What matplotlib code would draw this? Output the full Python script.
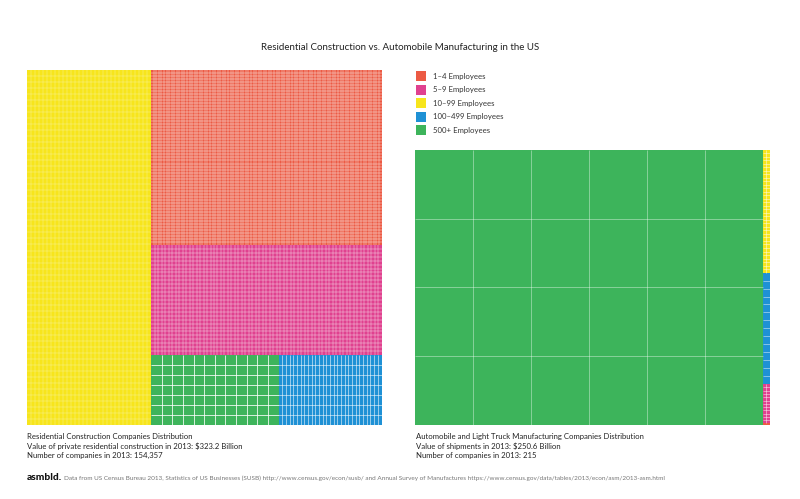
import numpy as np
import matplotlib.pyplot as plt
from matplotlib.patches import Rectangle

plt.rcParams['font.family'] = ['Lato', 'DejaVu Sans']

# Employee size classes
classes = ['1-4 Employees', '5-9 Employees', '10-99 Employees',
           '100-499 Employees', '500+ Employees']
colors = ['#ec5a44', '#e0418f', '#f7e51c', '#1f91d5', '#3db45b']

# Residential construction: value (billion $) by size class, read from areas
res_total = 323.2
res_values = [103.5, 65.1, 113.2, 18.5, 22.9]
# grid of cells drawn inside each block (cols, rows)
res_grid = [(90, 58), (66, 28), (31, 59), (28, 7), (12, 7)]

# Auto & light truck manufacturing
auto_total = 250.6
auto_values = [0.03, 0.7, 2.2, 2.0, 245.6]
auto_grid = [(1, 1), (2, 12), (2, 35), (1, 14), (6, 4)]

fig = plt.figure(figsize=(8, 4.99), dpi=100)

S = np.sqrt(res_total)         # side of the residential square
W = S                          # both blocks share the same width
gap = 34 / 355 * S
ax = fig.add_axes([27 / 800, 74 / 499, 743 / 800, 355 / 499])
ax.set_xlim(0, 2 * W + gap)
ax.set_ylim(0, S)
ax.axis('off')


def block(x, y, w, h, color, grid, alpha=0.75, lw=0.35):
    ax.add_patch(Rectangle((x, y), w, h, facecolor=color, edgecolor='none'))
    nc, nr = grid
    xs = x + w * np.arange(1, nc) / nc
    ys = y + h * np.arange(1, nr) / nr
    if len(xs):
        ax.vlines(xs, y, y + h, colors='white', lw=lw, alpha=alpha)
    if len(ys):
        ax.hlines(ys, x, x + w, colors='white', lw=lw, alpha=alpha)


# left treemap: 10-99 column, then 1-4 and 5-9 rows, then 500+ / 100-499 side by side
H = S
area = lambda v: v / res_total * W * H
i1, i5, i10, i100, i500 = range(5)
w10 = area(res_values[i10]) / H
block(0, 0, w10, H, colors[i10], res_grid[i10], 0.5)
rw = W - w10
h1 = area(res_values[i1]) / rw
block(w10, H - h1, rw, h1, colors[i1], res_grid[i1], 0.8)
h5 = area(res_values[i5]) / rw
block(w10, H - h1 - h5, rw, h5, colors[i5], res_grid[i5], 0.75)
hb = H - h1 - h5
w500 = area(res_values[i500]) / hb
block(w10, 0, w500, hb, colors[i500], res_grid[i500], 1.0, 0.55)
block(w10 + w500, 0, rw - w500, hb, colors[i100], res_grid[i100], 0.85, 0.45)

# right treemap: same width, height scaled by value
x0 = W + gap
H2 = auto_total / res_total * S
w5 = auto_values[i500] / auto_total * W
block(x0, 0, w5, H2, colors[i500], auto_grid[i500], 0.6, 0.45)
sw = W - w5
top = H2
for i in [i10, i100, i5, i1]:
    h = auto_values[i] / sum(auto_values[:4]) * H2
    block(x0 + w5, top - h, sw, h, colors[i], auto_grid[i], 0.8, 0.4)
    top -= h

# title
fig.text(0.5, 1 - 47 / 499, 'Residential Construction vs. Automobile Manufacturing in the US',
         ha='center', va='center', fontsize=7, color='#222222')

# legend
for k, (lab, c) in enumerate(zip(classes, colors)):
    yc = 1 - (76 + k * 13.6) / 499
    fig.patches.append(Rectangle((416 / 800, yc - 5 / 499), 10 / 800, 10 / 499,
                                 facecolor=c, edgecolor='none',
                                 transform=fig.transFigure, figure=fig))
    fig.text(433 / 800, yc, lab.replace('-', '–'), ha='left', va='center',
             fontsize=5.6, color='#333333')

cap_left = ['Residential Construction Companies Distribution',
            'Value of private residential construction in 2013: $323.2 Billion',
            'Number of companies in 2013: 154,357']
cap_right = ['Automobile and Light Truck Manufacturing Companies Distribution',
             'Value of shipments in 2013: $250.6 Billion',
             'Number of companies in 2013: 215']
for k, (a, b) in enumerate(zip(cap_left, cap_right)):
    yy = 1 - (436 + k * 9.8) / 499
    fig.text(27 / 800, yy, a, ha='left', va='center', fontsize=5.6, color='#222222')
    fig.text(416 / 800, yy, b, ha='left', va='center', fontsize=5.6, color='#222222')

fig.text(27 / 800, 1 - 477 / 499, 'asmbld.', ha='left', va='center',
         fontsize=7.3, fontweight='black', color='#111111')
fig.text(64 / 800, 1 - 478 / 499,
         'Data from US Census Bureau 2013, Statistics of US Businesses (SUSB) '
         'http://www.census.gov/econ/susb/ and Annual Survey of Manufactures '
         'https://www.census.gov/data/tables/2013/econ/asm/2013-asm.html',
         ha='left', va='center', fontsize=4.6, color='#777777')

fig.savefig('out.png', dpi=100, facecolor='white')
